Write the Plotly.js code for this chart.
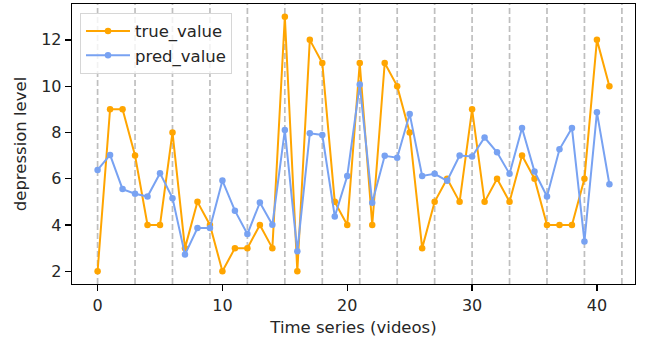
<!DOCTYPE html>
<html>
<head>
<meta charset="utf-8">
<script src="https://cdn.plot.ly/plotly-3.0.1.min.js"></script>
<style>html,body{margin:0;padding:0;background:#fff;}#chart{width:649px;height:343px;}</style>
</head>
<body>
<div id="chart"></div>
<script>
var videoIndex = [0,1,2,3,4,5,6,7,8,9,10,11,12,13,14,15,16,17,18,19,20,21,22,23,24,25,26,27,28,29,30,31,32,33,34,35,36,37,38,39,40,41];
var trueValue = [2,9,9,7,4,4,8,3,5,4,2,3,3,4,3,13,2,12,11,5,4,11,4,11,10,8,3,5,6,5,9,5,6,5,7,6,4,4,4,6,12,10];
var predValue = [6.38,7.03,5.55,5.35,5.23,6.24,5.16,2.72,3.87,3.87,5.92,4.62,3.61,4.97,4.01,8.1,2.86,7.96,7.89,4.37,6.12,10.07,4.96,6.99,6.91,8.8,6.12,6.21,5.91,7.0,6.96,7.78,7.14,6.21,8.19,6.31,5.23,7.27,8.19,3.29,8.87,5.76];
var boundaries = [0,3,6,9,12,15,18,21,24,27,30,33,36,39,42];
var xTicks = [0,10,20,30,40];
var yTicks = [2,4,6,8,10,12];

var font = "DejaVu Sans, sans-serif";
var txt = '#262626';
var shapes = boundaries.map(function(b){
  return {type:'line', xref:'x', yref:'paper', x0:b, x1:b, y0:0, y1:1,
          line:{color:'rgba(128,128,128,0.5)', width:1.7, dash:'6px,3px'}, layer:'below'};
});

var traces = [
  {x: videoIndex, y: trueValue, name: 'true_value', mode: 'lines+markers',
   line:{color:'#FFA500', width:2}, marker:{color:'#FFA500', size:6.5}},
  {x: videoIndex, y: predValue, name: 'pred_value', mode: 'lines+markers',
   line:{color:'#78a2f2', width:2}, marker:{color:'#78a2f2', size:6.5}}
];

var layout = {
  width:649, height:343,
  margin:{l:72, r:14, t:4, b:59},
  paper_bgcolor:'#fff', plot_bgcolor:'#fff',
  font:{family:font, size:16, color:txt},
  showlegend:true,
  legend:{x:0.0142, y:0.969, xanchor:'left', yanchor:'top', bgcolor:'rgba(255,255,255,0.8)',
          bordercolor:'#d6d6d6', borderwidth:1, font:{family:font, size:16.5, color:txt},
          traceorder:'normal', itemwidth:44},
  xaxis:{range:[-2.05,43.05], tickvals:xTicks, ticktext:xTicks.map(String), ticks:'outside', ticklen:6,
         tickcolor:'#000', tickwidth:1.3, tickfont:{family:font, size:16, color:txt},
         showgrid:false, zeroline:false, showline:true, linecolor:'#000', linewidth:1.3, mirror:true,
         title:{text:'Time series (videos)', font:{family:font, size:16.5, color:txt}, standoff:8}},
  yaxis:{range:[1.45,13.55], tickvals:yTicks, ticktext:yTicks.map(String), ticks:'outside', ticklen:6,
         tickcolor:'#000', tickwidth:1.3, tickfont:{family:font, size:16, color:txt},
         showgrid:false, zeroline:false, showline:true, linecolor:'#000', linewidth:1.3, mirror:true,
         title:{text:'depression level', font:{family:font, size:16.5, color:txt}, standoff:10}},
  shapes: shapes
};

Plotly.newPlot('chart', traces, layout, {displayModeBar:false, staticPlot:true});
</script>
</body>
</html>
